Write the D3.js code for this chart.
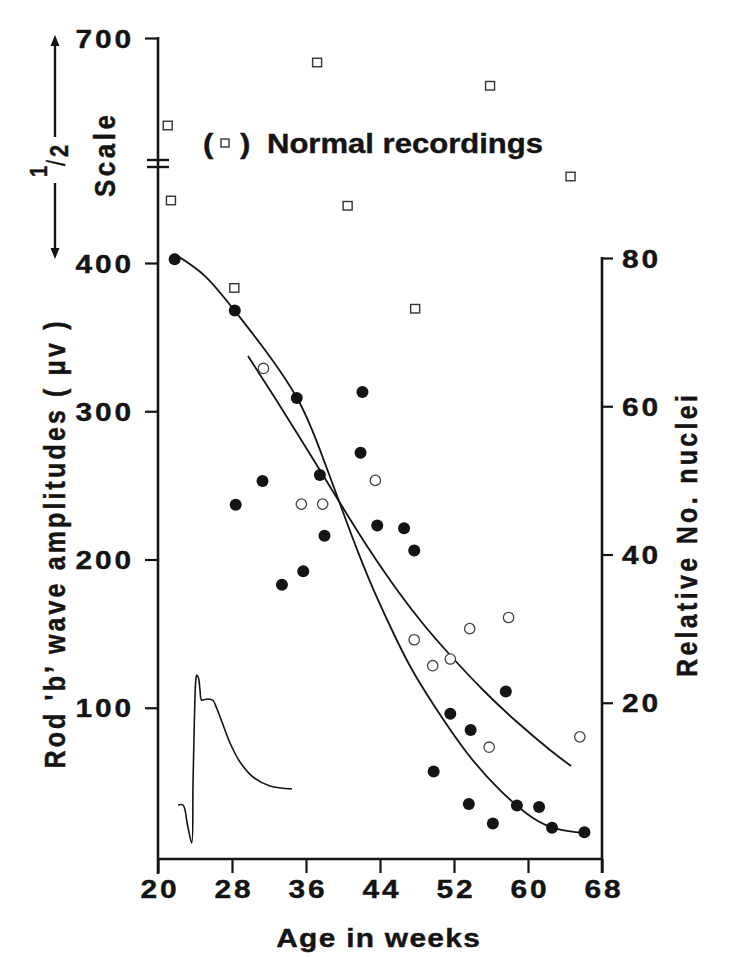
<!DOCTYPE html>
<html>
<head>
<meta charset="utf-8">
<script src="https://cdn.jsdelivr.net/npm/d3@7"></script>
<style>
  body { margin: 0; background: #fff; }
  text { font-family: "Liberation Sans", Arial, sans-serif; font-weight: bold; fill: #141414; stroke: #141414; stroke-width: 0.4px; }
</style>
</head>
<body>
<script>
// rod b-wave amplitudes (filled dots), microvolts
var ampWeeks  = [21.8, 28.3, 28.4, 31.3, 33.4, 35.0, 35.7, 37.5, 38.0, 41.9, 42.1, 43.7, 46.6, 47.7, 49.8, 51.6, 53.6, 53.8, 56.2, 57.6, 58.8, 61.2, 62.6, 66.1];
var ampValues = [405, 368, 237, 253, 183, 309, 192, 257, 216, 272, 313, 223, 221, 206, 57, 96, 35, 85, 22, 111, 34, 33, 19, 16];

// relative no. of nuclei (open circles)
var nucWeeks  = [31.4, 35.5, 37.8, 43.5, 47.7, 49.7, 51.6, 53.7, 55.8, 57.9, 65.6];
var nucValues = [65.1, 46.8, 46.8, 50.0, 28.5, 25.0, 25.9, 30.0, 14.0, 31.5, 15.4];

// normal recordings (squares), above 400 on half scale
var normWeeks  = [21.05, 21.4, 28.25, 37.2, 40.5, 47.8, 55.9, 64.6];
var normValues = [583, 483, 383, 667, 476, 369, 636, 515];

// hand fitted curves
var ampFitWeeks  = [21.84, 25.08, 28.32, 31.57, 35.03, 37.51, 40.0, 41.62, 43.35, 45.19, 47.24, 49.95, 53.41, 56.97, 60.54, 63.24, 66.05];
var ampFitValues = [411.5, 391.2, 367.6, 341.3, 308.9, 273.9, 232.0, 205.1, 178.8, 153.8, 128.2, 100.5, 69.5, 44.5, 25.6, 18.2, 15.5];
var nucFitWeeks  = [29.73, 32.65, 35.89, 39.68, 42.38, 45.08, 48.32, 51.57, 55.14, 58.81, 62.38, 64.65];
var nucFitValues = [66.78, 61.12, 54.64, 46.95, 41.55, 36.56, 31.16, 26.44, 21.72, 17.40, 13.63, 11.47];

// inset ERG trace (time units, microvolts)
var ergTime = [0, 5, 9.5, 13.7, 15, 16.5, 17.8, 18.7, 20.5, 22, 23.5, 27, 30, 35, 39, 44, 52, 62, 75, 92, 114];
var ergVolt = [0, 0, -20, -38, 20, 90, 125, 130, 127, 115, 105, 105.5, 106, 104.5, 96, 83, 62, 43, 28, 19, 16];

var xTicks = [20, 28, 36, 44, 52, 60, 68];
var ampTicks = [100, 200, 300, 400, 700];
var nucTicks = [20, 40, 60, 80];

var w = 729, h = 957;
var ink = "#141414";

var svg = d3.select("body").append("svg")
            .attr("width", w)
            .attr("height", h);

var x = d3.scaleLinear().domain([20, 68]).range([158, 602]);
var yAmp = d3.scaleLinear().domain([0, 400, 700]).range([856, 263, 38]);
var yNuc = d3.scaleLinear().domain([0, 80]).range([851, 258]);

var ergX = d3.scaleLinear().domain([0, 114]).range([178, 292]);
var ergY = d3.scaleLinear().domain([-40, 130]).range([845, 675]);

function line(x1, y1, x2, y2, sw) {
  svg.append("line")
     .attr("x1", x1).attr("y1", y1).attr("x2", x2).attr("y2", y2)
     .attr("stroke", ink).attr("stroke-width", sw);
}

// wide, letter spaced bold text (the print is stretched sideways)
function label(tx, ty, str, size, rot, len, anchor) {
  var t = svg.append("text")
     .attr("transform", "translate(" + tx + "," + ty + ") scale(1.15,1)" + (rot ? " rotate(-90)" : ""))
     .attr("text-anchor", anchor || "middle")
     .style("font-size", size + "px")
     .text(str);
  if (len) t.attr("textLength", len).attr("lengthAdjust", "spacing");
  return t;
}

// axes
var xAxisY = 859;

var gLeft = svg.append("g")
  .attr("transform", "translate(" + x(20) + ",0)")
  .call(d3.axisLeft(yAmp).tickValues(ampTicks).tickSize(13).tickSizeOuter(0));
gLeft.select(".domain").remove();
gLeft.selectAll(".tick line").attr("stroke", ink).attr("stroke-width", 2.2);
gLeft.selectAll(".tick text")
  .attr("x", null).attr("dy", null)
  .attr("text-anchor", "end")
  .attr("transform", "translate(-24,9) scale(1.15,1)")
  .style("font-size", "26px").style("letter-spacing", "2.5px");

var gBottom = svg.append("g")
  .attr("transform", "translate(0," + xAxisY + ")")
  .call(d3.axisBottom(x).tickValues(xTicks).tickSize(14).tickSizeOuter(0));
gBottom.select(".domain").remove();
gBottom.selectAll(".tick line").attr("stroke", ink).attr("stroke-width", 2.2);
gBottom.selectAll(".tick text")
  .attr("y", null).attr("dy", null)
  .attr("transform", "translate(1.5,39) scale(1.15,1)")
  .style("font-size", "26px").style("letter-spacing", "2.5px");

var gRight = svg.append("g")
  .attr("transform", "translate(" + x(68) + ",0)")
  .call(d3.axisRight(yNuc).tickValues(nucTicks).tickSize(11).tickSizeOuter(0));
gRight.select(".domain").remove();
gRight.selectAll(".tick line").attr("stroke", ink).attr("stroke-width", 2.2);
gRight.selectAll(".tick text")
  .attr("x", null).attr("dy", null)
  .attr("text-anchor", "start")
  .attr("transform", "translate(20,9) scale(1.15,1)")
  .style("font-size", "26px").style("letter-spacing", "2.5px");

// axis lines, left one broken between 400 and 700
line(x(20), yAmp(700) - 1, x(20), xAxisY + 15, 2.6);
line(x(20) - 11, 160, x(20) + 11, 160, 2.4);
line(x(20) - 11, 167, x(20) + 11, 167, 2.4);
line(x(20), xAxisY, x(68), xAxisY, 2.6);
line(x(68), yNuc(80) - 1, x(68), xAxisY + 14, 2.6);

// 1/2 scale arrows
line(55, 44, 55, 137, 2.4);
line(55, 183, 55, 251, 2.4);
svg.append("path").attr("d", "M55,35 L50.5,46 L59.5,46 Z").attr("fill", ink);
svg.append("path").attr("d", "M55,259 L50.5,248 L59.5,248 Z").attr("fill", ink);

var frac = svg.append("g").attr("transform", "translate(68,160) scale(1.15,1) rotate(-90)");
frac.append("text").attr("x", -17).attr("y", -18).style("font-size", "20px").text("1");
frac.append("text").attr("x", -6).attr("y", -3).style("font-size", "22px").style("font-weight", "normal").text("/");
frac.append("text").attr("x", 3).attr("y", 0).style("font-size", "22px").text("2");

label(115, 156, "Scale", 26, true, 82);

// axis titles
label(65, 545, "Rod 'b’ wave amplitudes ( μv )", 25, true, 447);
label(697, 536, "Relative No. nuclei", 25, true, 282);
label(378, 947, "Age in weeks", 26, false, 177);

// legend for normal recordings
label(203, 153, "(", 27, false, null, "start");
label(240, 153, ")", 27, false, null, "start");
label(267, 153, "Normal recordings", 27, false, 240, "start");
svg.append("rect")
   .attr("x", 221).attr("y", 139).attr("width", 8).attr("height", 8)
   .attr("fill", "#fff").attr("stroke", "#333").attr("stroke-width", 1.4);

// fitted curves
var ampFit = ampFitWeeks.map(function(d, i){ return [d, ampFitValues[i]]; });
var nucFit = nucFitWeeks.map(function(d, i){ return [d, nucFitValues[i]]; });

svg.append("path")
   .datum(ampFit)
   .attr("fill", "none").attr("stroke", ink).attr("stroke-width", 1.8)
   .attr("d", d3.line().curve(d3.curveNatural)
                .x(function(d){ return x(d[0]); })
                .y(function(d){ return yAmp(d[1]); }));

svg.append("path")
   .datum(nucFit)
   .attr("fill", "none").attr("stroke", ink).attr("stroke-width", 1.8)
   .attr("d", d3.line().curve(d3.curveNatural)
                .x(function(d){ return x(d[0]); })
                .y(function(d){ return yNuc(d[1]); }));

// ERG inset trace
var erg = ergTime.map(function(d, i){ return [d, ergVolt[i]]; });
svg.append("path")
   .datum(erg)
   .attr("fill", "none").attr("stroke", ink).attr("stroke-width", 1.6)
   .attr("d", d3.line().curve(d3.curveCatmullRom.alpha(0.5))
                .x(function(d){ return ergX(d[0]); })
                .y(function(d){ return ergY(d[1]); }));

// normal recordings
svg.selectAll("rect.norm")
   .data(normWeeks)
   .enter()
   .append("rect")
   .attr("class", "norm")
   .attr("x", function(d){ return x(d) - 4.5; })
   .attr("y", function(d, i){ return yAmp(normValues[i]) - 4.5; })
   .attr("width", 9).attr("height", 8.5)
   .attr("fill", "#fff").attr("stroke", "#333").attr("stroke-width", 1.4);

// open circles
svg.selectAll("circle.nuc")
   .data(nucWeeks)
   .enter()
   .append("circle")
   .attr("class", "nuc")
   .attr("cx", function(d){ return x(d); })
   .attr("cy", function(d, i){ return yNuc(nucValues[i]); })
   .attr("r", 5.2)
   .attr("fill", "#fff").attr("stroke", "#444").attr("stroke-width", 1.3);

// filled dots
svg.selectAll("circle.amp")
   .data(ampWeeks)
   .enter()
   .append("circle")
   .attr("class", "amp")
   .attr("cx", function(d){ return x(d); })
   .attr("cy", function(d, i){ return yAmp(ampValues[i]); })
   .attr("r", 6)
   .attr("fill", ink);
</script>
</body>
</html>
